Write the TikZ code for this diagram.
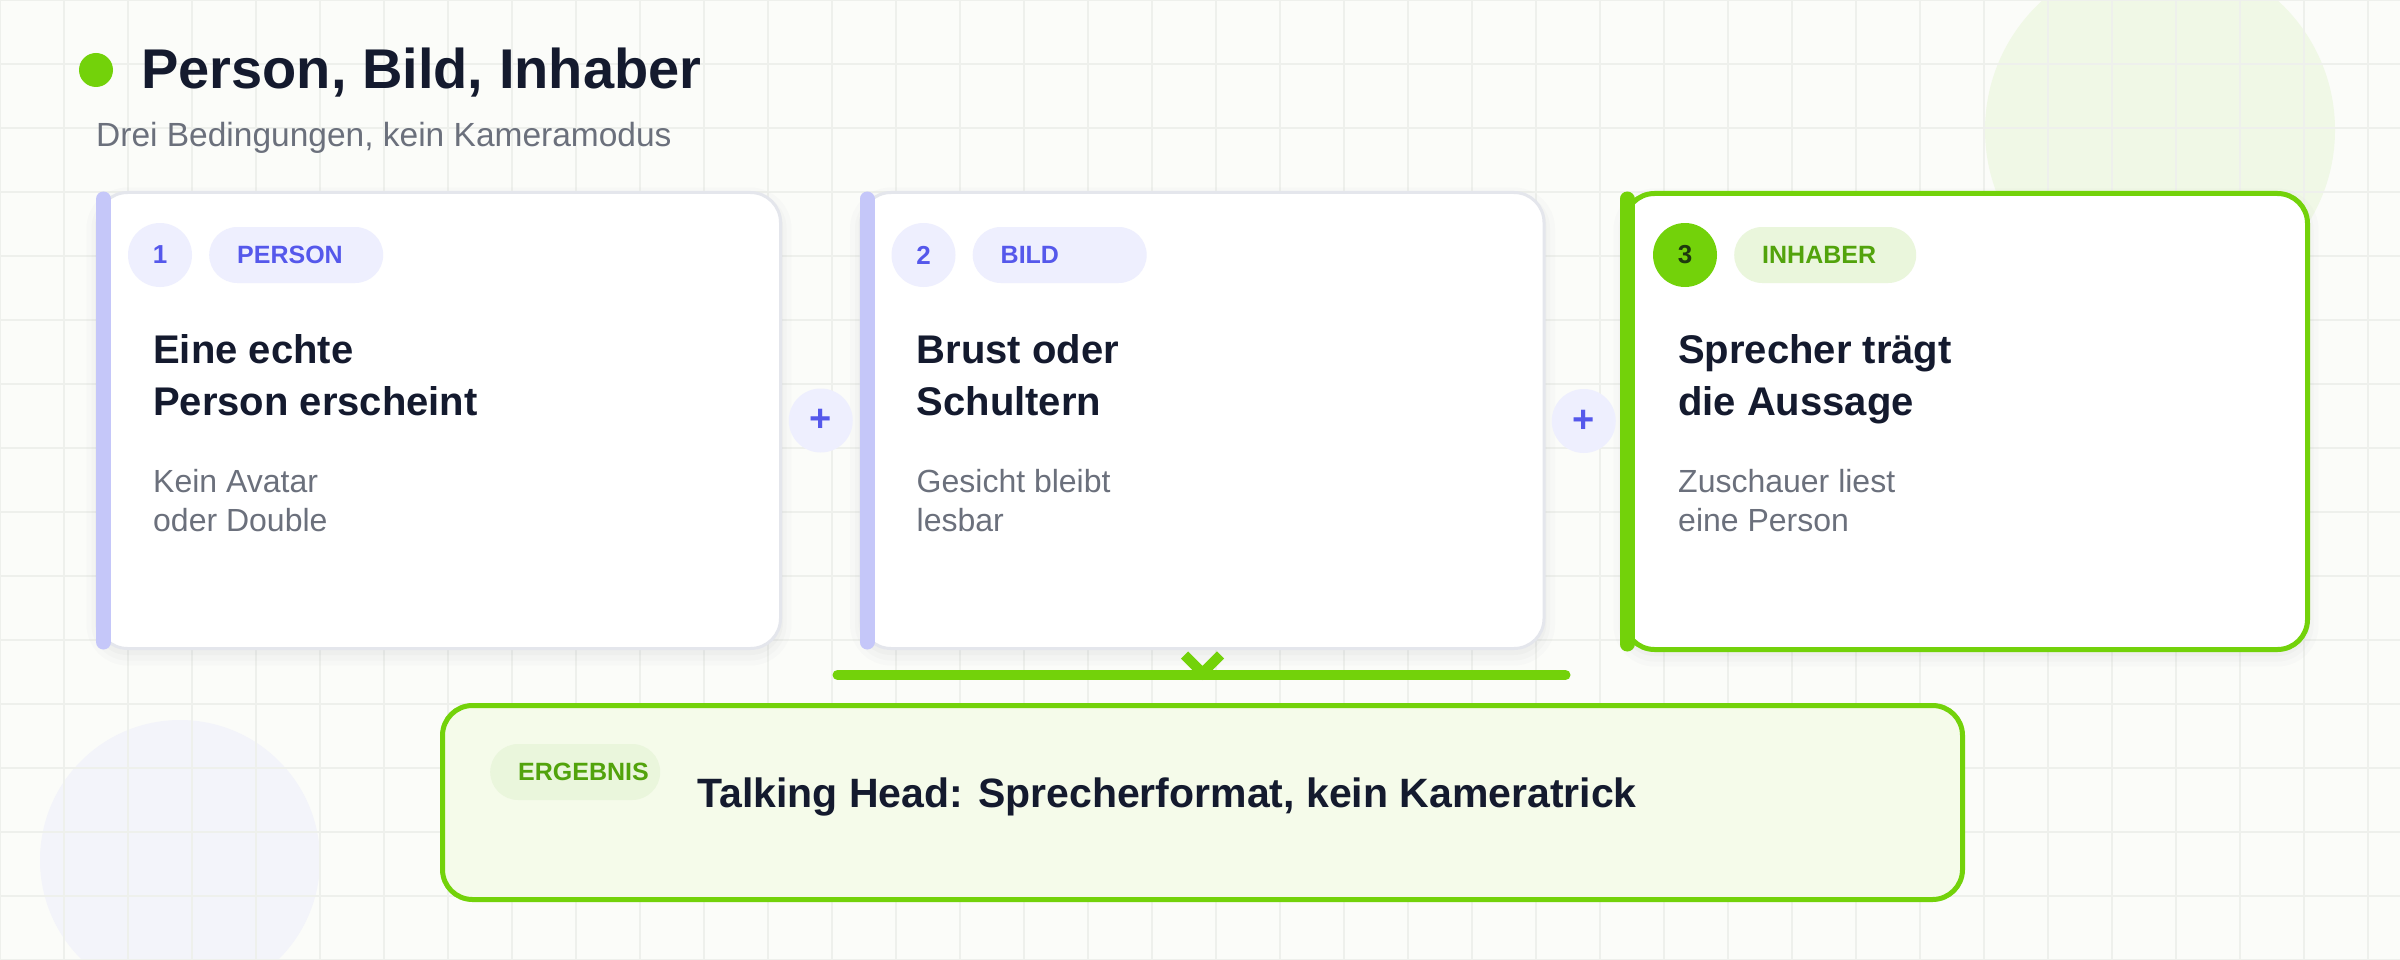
\documentclass[tikz,border=0pt]{standalone}
\usepackage{fontspec}
\setmainfont{Liberation Sans}
\usetikzlibrary{calc}
\definecolor{bgc}{RGB}{251,252,249}
\definecolor{gridc}{RGB}{238,240,236}
\definecolor{ink}{RGB}{20,26,46}
\definecolor{muted}{RGB}{107,112,124}
\definecolor{indigo}{RGB}{85,88,235}
\definecolor{lavbar}{RGB}{197,199,249}
\definecolor{lavfill}{RGB}{238,239,254}
\definecolor{cardline}{RGB}{228,230,236}
\definecolor{lime}{RGB}{115,210,10}
\definecolor{limetext}{RGB}{82,163,12}
\definecolor{limedark}{RGB}{30,58,14}
\definecolor{limepill}{RGB}{234,246,220}
\definecolor{resfill}{RGB}{245,251,234}
\definecolor{decog}{RGB}{240,248,230}
\definecolor{decob}{RGB}{243,244,250}
\definecolor{shade}{RGB}{90,95,110}
\begin{document}
\begin{tikzpicture}[x=1pt,y=-1pt,
  card/.style={fill=white, draw=cardline, line width=3pt, rounded corners=30pt,
    minimum width=683pt, minimum height=456pt, anchor=north west, inner sep=0pt,
    preaction={draw=shade, line width=22pt, opacity=0.018, transform canvas={yshift=-6pt}},
    preaction={draw=shade, line width=12pt, opacity=0.025, transform canvas={yshift=-6pt}},
    preaction={draw=shade, line width=5pt, opacity=0.03, transform canvas={yshift=-4pt}}},
  hicard/.style={card, draw=lime, line width=5pt},
  lbar/.style={line width=15pt, line cap=round, lavbar},
  hibar/.style={line width=15pt, line cap=round, lime},
  numc/.style={circle, fill=lavfill, minimum size=64pt, inner sep=0pt, text=indigo,
    font=\fontsize{26}{30}\selectfont\bfseries},
  hinumc/.style={numc, fill=lime, text=limedark},
  pill/.style={rounded corners=28pt, fill=lavfill, minimum height=56pt, inner xsep=28pt,
    inner ysep=0pt, anchor=west, align=left, text=indigo, font=\fontsize{25}{30}\selectfont\bfseries},
  hipill/.style={pill, fill=limepill, text=limetext},
  head/.style={anchor=base west, inner sep=0pt, align=left, text=ink,
    font=\fontsize{40}{52}\selectfont\bfseries},
  sub/.style={anchor=base west, inner sep=0pt, align=left, text=muted,
    font=\fontsize{32}{39}\selectfont},
  plusc/.style={circle, fill=lavfill, minimum size=64pt, inner sep=0pt, text=indigo,
    font=\fontsize{38}{40}\selectfont\bfseries},
  gline/.style={line width=10pt, lime, line cap=round, line join=round},
  resbox/.style={fill=resfill, draw=lime, line width=5pt, rounded corners=30pt,
    minimum width=1520pt, minimum height=194pt, anchor=north west, inner sep=0pt}
]
\useasboundingbox (0,0) rectangle (2400,960);
\fill[bgc] (0,0) rectangle (2400,960);
% decorative circles
\fill[decog] (2160,130) circle (175pt);
\fill[decob] (180,860) circle (140pt);
% grid
\foreach \gx in {0,64,...,2400} \draw[gridc, line width=1.5pt] (\gx,0) -- (\gx,960);
\foreach \gy in {0,64,...,960} \draw[gridc, line width=1.5pt] (0,\gy) -- (2400,\gy);

% title
\node[circle, fill=lime, minimum size=34pt, inner sep=0pt] (dot) at (96,70) {};
\node[anchor=base west, inner sep=0pt, text=ink, font=\fontsize{56}{60}\selectfont\bfseries] (title) at (141,89) {Person, Bild, Inhaber};
\node[anchor=base west, inner sep=0pt, text=muted, font=\fontsize{33.5}{36}\selectfont] (subtitle) at (96,147) {Drei Bedingungen, kein Kameramodus};

% cards
\node[card] (c1) at (96,191) {};
\node[card] (c2) at (859.5,191) {};
\node[hicard] (c3) at (1622,191) {};

\draw[lbar] ([xshift=7.5pt,yshift=-8pt]c1.north west) -- ([xshift=7.5pt,yshift=8pt]c1.south west);
\draw[lbar] ([xshift=7.5pt,yshift=-8pt]c2.north west) -- ([xshift=7.5pt,yshift=8pt]c2.south west);
\draw[hibar] ([xshift=5pt,yshift=-8pt]c3.north west) -- ([xshift=5pt,yshift=8pt]c3.south west);

% badges
\node[numc] (n1) at ([xshift=64pt,yshift=-64pt]c1.north west) {1};
\node[pill, text width=118pt] (t1) at ([xshift=113pt,yshift=-64pt]c1.north west) {PERSON};
\node[numc] (n2) at ([xshift=64pt,yshift=-64pt]c2.north west) {2};
\node[pill, text width=118pt] (t2) at ([xshift=113pt,yshift=-64pt]c2.north west) {BILD};
\node[hinumc] (n3) at ([xshift=63pt,yshift=-64pt]c3.north west) {3};
\node[hipill, text width=126pt] (t3) at ([xshift=112pt,yshift=-64pt]c3.north west) {INHABER};

% headings (base = last line)
\node[head] (h1) at ([xshift=57pt,yshift=-224pt]c1.north west) {Eine echte\\Person erscheint};
\node[head] (h2) at ([xshift=57pt,yshift=-224pt]c2.north west) {Brust oder\\Schultern};
\node[head] (h3) at ([xshift=56pt,yshift=-224pt]c3.north west) {Sprecher trägt\\die Aussage};

\node[sub] (s1) at ([xshift=57pt,yshift=-340pt]c1.north west) {Kein Avatar\\oder Double};
\node[sub] (s2) at ([xshift=57pt,yshift=-340pt]c2.north west) {Gesicht bleibt\\lesbar};
\node[sub] (s3) at ([xshift=56pt,yshift=-340pt]c3.north west) {Zuschauer liest\\eine Person};

% plus signs
\node[plusc] (p1) at ($(c1.east)!0.5!(c2.west)$) {+};
\node[plusc] (p2) at ($(c2.east)!0.5!(c3.west)$) {+};

% connector
\coordinate (la) at ([xshift=-365pt,yshift=-25pt]c2.south);
\coordinate (lb) at ([xshift=363pt,yshift=-25pt]c2.south);
\coordinate (v1) at ([xshift=-18pt,yshift=-5pt]c2.south);
\coordinate (v2) at ([xshift=0pt,yshift=-23pt]c2.south);
\coordinate (v3) at ([xshift=18pt,yshift=-5pt]c2.south);
\draw[gline] (la) -- (lb);
\draw[gline, line cap=butt, line join=miter] (v1) -- (v2) -- (v3);

% result
\node[resbox] (r) at (440,703) {};
\node[hipill, text width=114pt] (rp) at ([xshift=50pt,yshift=-69pt]r.north west) {ERGEBNIS};
\node[anchor=base west, inner sep=0pt, text=ink, font=\fontsize{41}{44}\selectfont\bfseries] (rt) at ([xshift=257pt,yshift=-104pt]r.north west) {Talking Head: Sprecherformat, kein Kameratrick};
\end{tikzpicture}
\end{document}
